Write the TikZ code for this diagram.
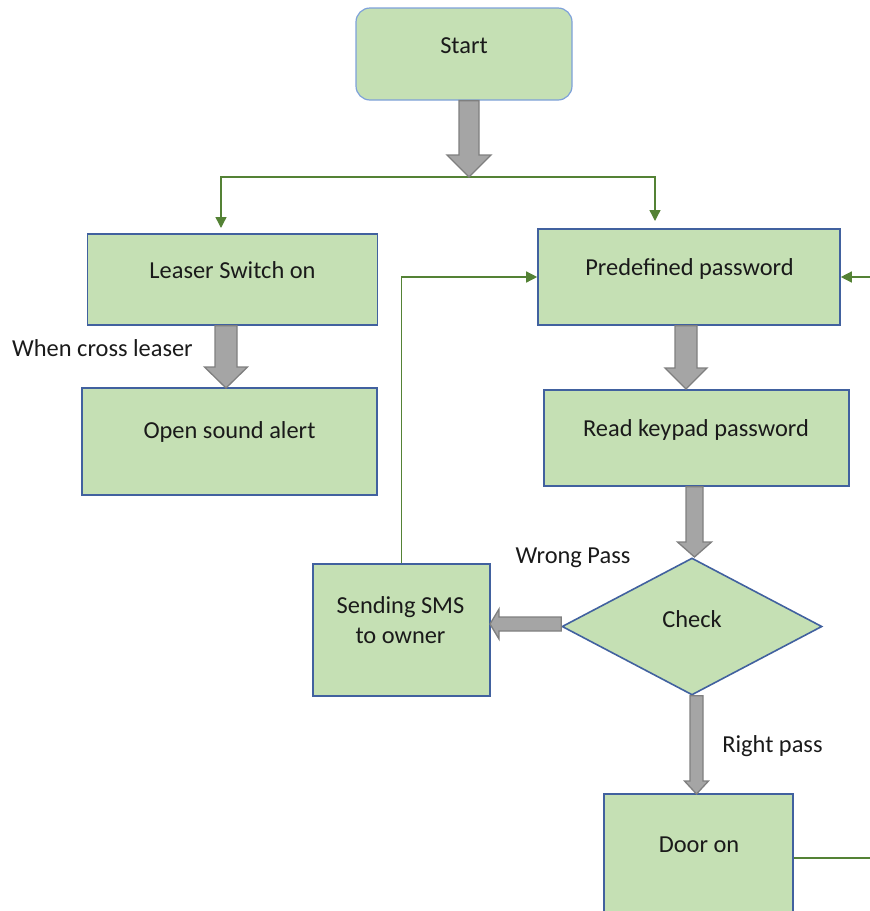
\documentclass[tikz,border=0pt]{standalone}
\usepackage{fontspec}
\setmainfont{Carlito}
\usetikzlibrary{calc,shapes.geometric,arrows.meta}
\definecolor{boxfill}{HTML}{C5E0B4}
\definecolor{boxline}{HTML}{41619F}
\definecolor{startline}{HTML}{7EA1DA}
\definecolor{grayfill}{HTML}{A5A5A5}
\definecolor{grayline}{HTML}{7F7F7F}
\definecolor{greenline}{HTML}{548235}
\definecolor{txtcol}{HTML}{1A1A1A}
\newcommand\vblock[5]{%
  \draw[garrow] ($(#2 |- #1)+(-#3,0)$) -- ($(#2)+(-#3,-#5)$) -- ($(#2)+(-#4,-#5)$) -- (#2)
     -- ($(#2)+(#4,-#5)$) -- ($(#2)+(#3,-#5)$) -- ($(#2 |- #1)+(#3,0)$) -- cycle;}
\newcommand\hblockleft[5]{%
  \draw[garrow] ($(#2 -| #1)+(0,-#3)$) -- ($(#2)+(#5,-#3)$) -- ($(#2)+(#5,-#4)$) -- (#2)
     -- ($(#2)+(#5,#4)$) -- ($(#2)+(#5,#3)$) -- ($(#2 -| #1)+(0,#3)$) -- cycle;}
\begin{document}
\begin{tikzpicture}[x=1pt,y=-1pt,
  box/.style={draw=boxline, fill=boxfill, line width=1.6pt, inner sep=0pt},
  startbox/.style={draw=startline, fill=boxfill, line width=1.2pt, rounded corners=14pt, inner sep=0pt},
  chk/.style={diamond, draw=boxline, fill=boxfill, line width=1.6pt, inner sep=0pt},
  lbl/.style={font=\fontsize{24.4}{29}\selectfont, text=txtcol, inner sep=0pt, anchor=base},
  garrow/.style={draw=grayline, fill=grayfill, line width=1.3pt, line join=miter},
  gline/.style={draw=greenline, line width=1.4pt},
  gtip/.style={-{Triangle[length=11pt,width=11pt]}}
]
\useasboundingbox (0,0) rectangle (870,911);
\clip (0,0) rectangle (870,911);

% boxes
\node[startbox, minimum width=216pt, minimum height=92pt] (start) at (464,54) {};
\node[box, minimum width=290pt, minimum height=91pt] (leaser) at (232.5,279.5) {};
\node[box, minimum width=295pt, minimum height=107pt] (alert) at (229.5,441.5) {};
\node[box, minimum width=302pt, minimum height=96pt] (pred) at (689,277) {};
\node[box, minimum width=305pt, minimum height=96pt] (read) at (696.5,438) {};
\node[chk, minimum width=260pt, minimum height=137pt] (check) at (692,626.5) {};
\node[box, minimum width=177pt, minimum height=132pt] (sms) at (401.5,630) {};
\node[box, minimum width=189pt, minimum height=146pt] (door) at (698.5,867) {};

% texts
\node[lbl] (tstart) at (464,53) {Start};
\node[lbl] (tleaser) at (232.5,278) {Leaser Switch on};
\node[lbl] (talert) at (229.5,438) {Open sound alert};
\node[lbl] (tpred) at (689.5,275) {Predefined password};
\node[lbl] (tread) at (696,436) {Read keypad password};
\node[lbl] (tcheck) at (692,627) {Check};
\node[lbl] (tsms1) at (400.5,613) {Sending SMS};
\node[lbl] (tsms2) at (400.5,643) {to owner};
\node[lbl] (tdoor) at (699,852) {Door on};
\node[lbl, anchor=base west] (tcross) at (12,356) {When cross leaser};
\node[lbl] (twrong) at (573,563) {Wrong Pass};
\node[lbl] (tright) at (772.5,752) {Right pass};

% green connectors
\coordinate (split) at (469,177);
\coordinate (lt) at (221,228);
\coordinate (rt) at (655,221);
\coordinate (rin) at (870,277);
\coordinate (dout) at (870,858);
\draw[gline, gtip] (split) -| (lt);
\draw[gline, gtip] (split) -| (rt);
\draw[gline, gtip] (sms.north) |- (pred.west);
\draw[gline, gtip] (rin) -- (pred.east);
\draw[gline] (dout -| door.east) -- (dout);

% gray block arrows
\coordinate (t1) at (469,177);
\coordinate (t2) at (226,388);
\coordinate (t3) at (686,389);
\coordinate (t4) at (694.5,557);
\coordinate (t5) at (696.5,794);
\coordinate (t6) at (490,624);
\vblock{start.south}{t1}{10}{22}{22}
\vblock{leaser.south}{t2}{11}{21.5}{21}
\vblock{pred.south}{t3}{11}{21}{21}
\vblock{read.south}{t4}{8.5}{17}{15}
\vblock{check.south}{t5}{6.5}{12}{13}
\hblockleft{check.west}{t6}{7}{15}{9}
\end{tikzpicture}
\end{document}
